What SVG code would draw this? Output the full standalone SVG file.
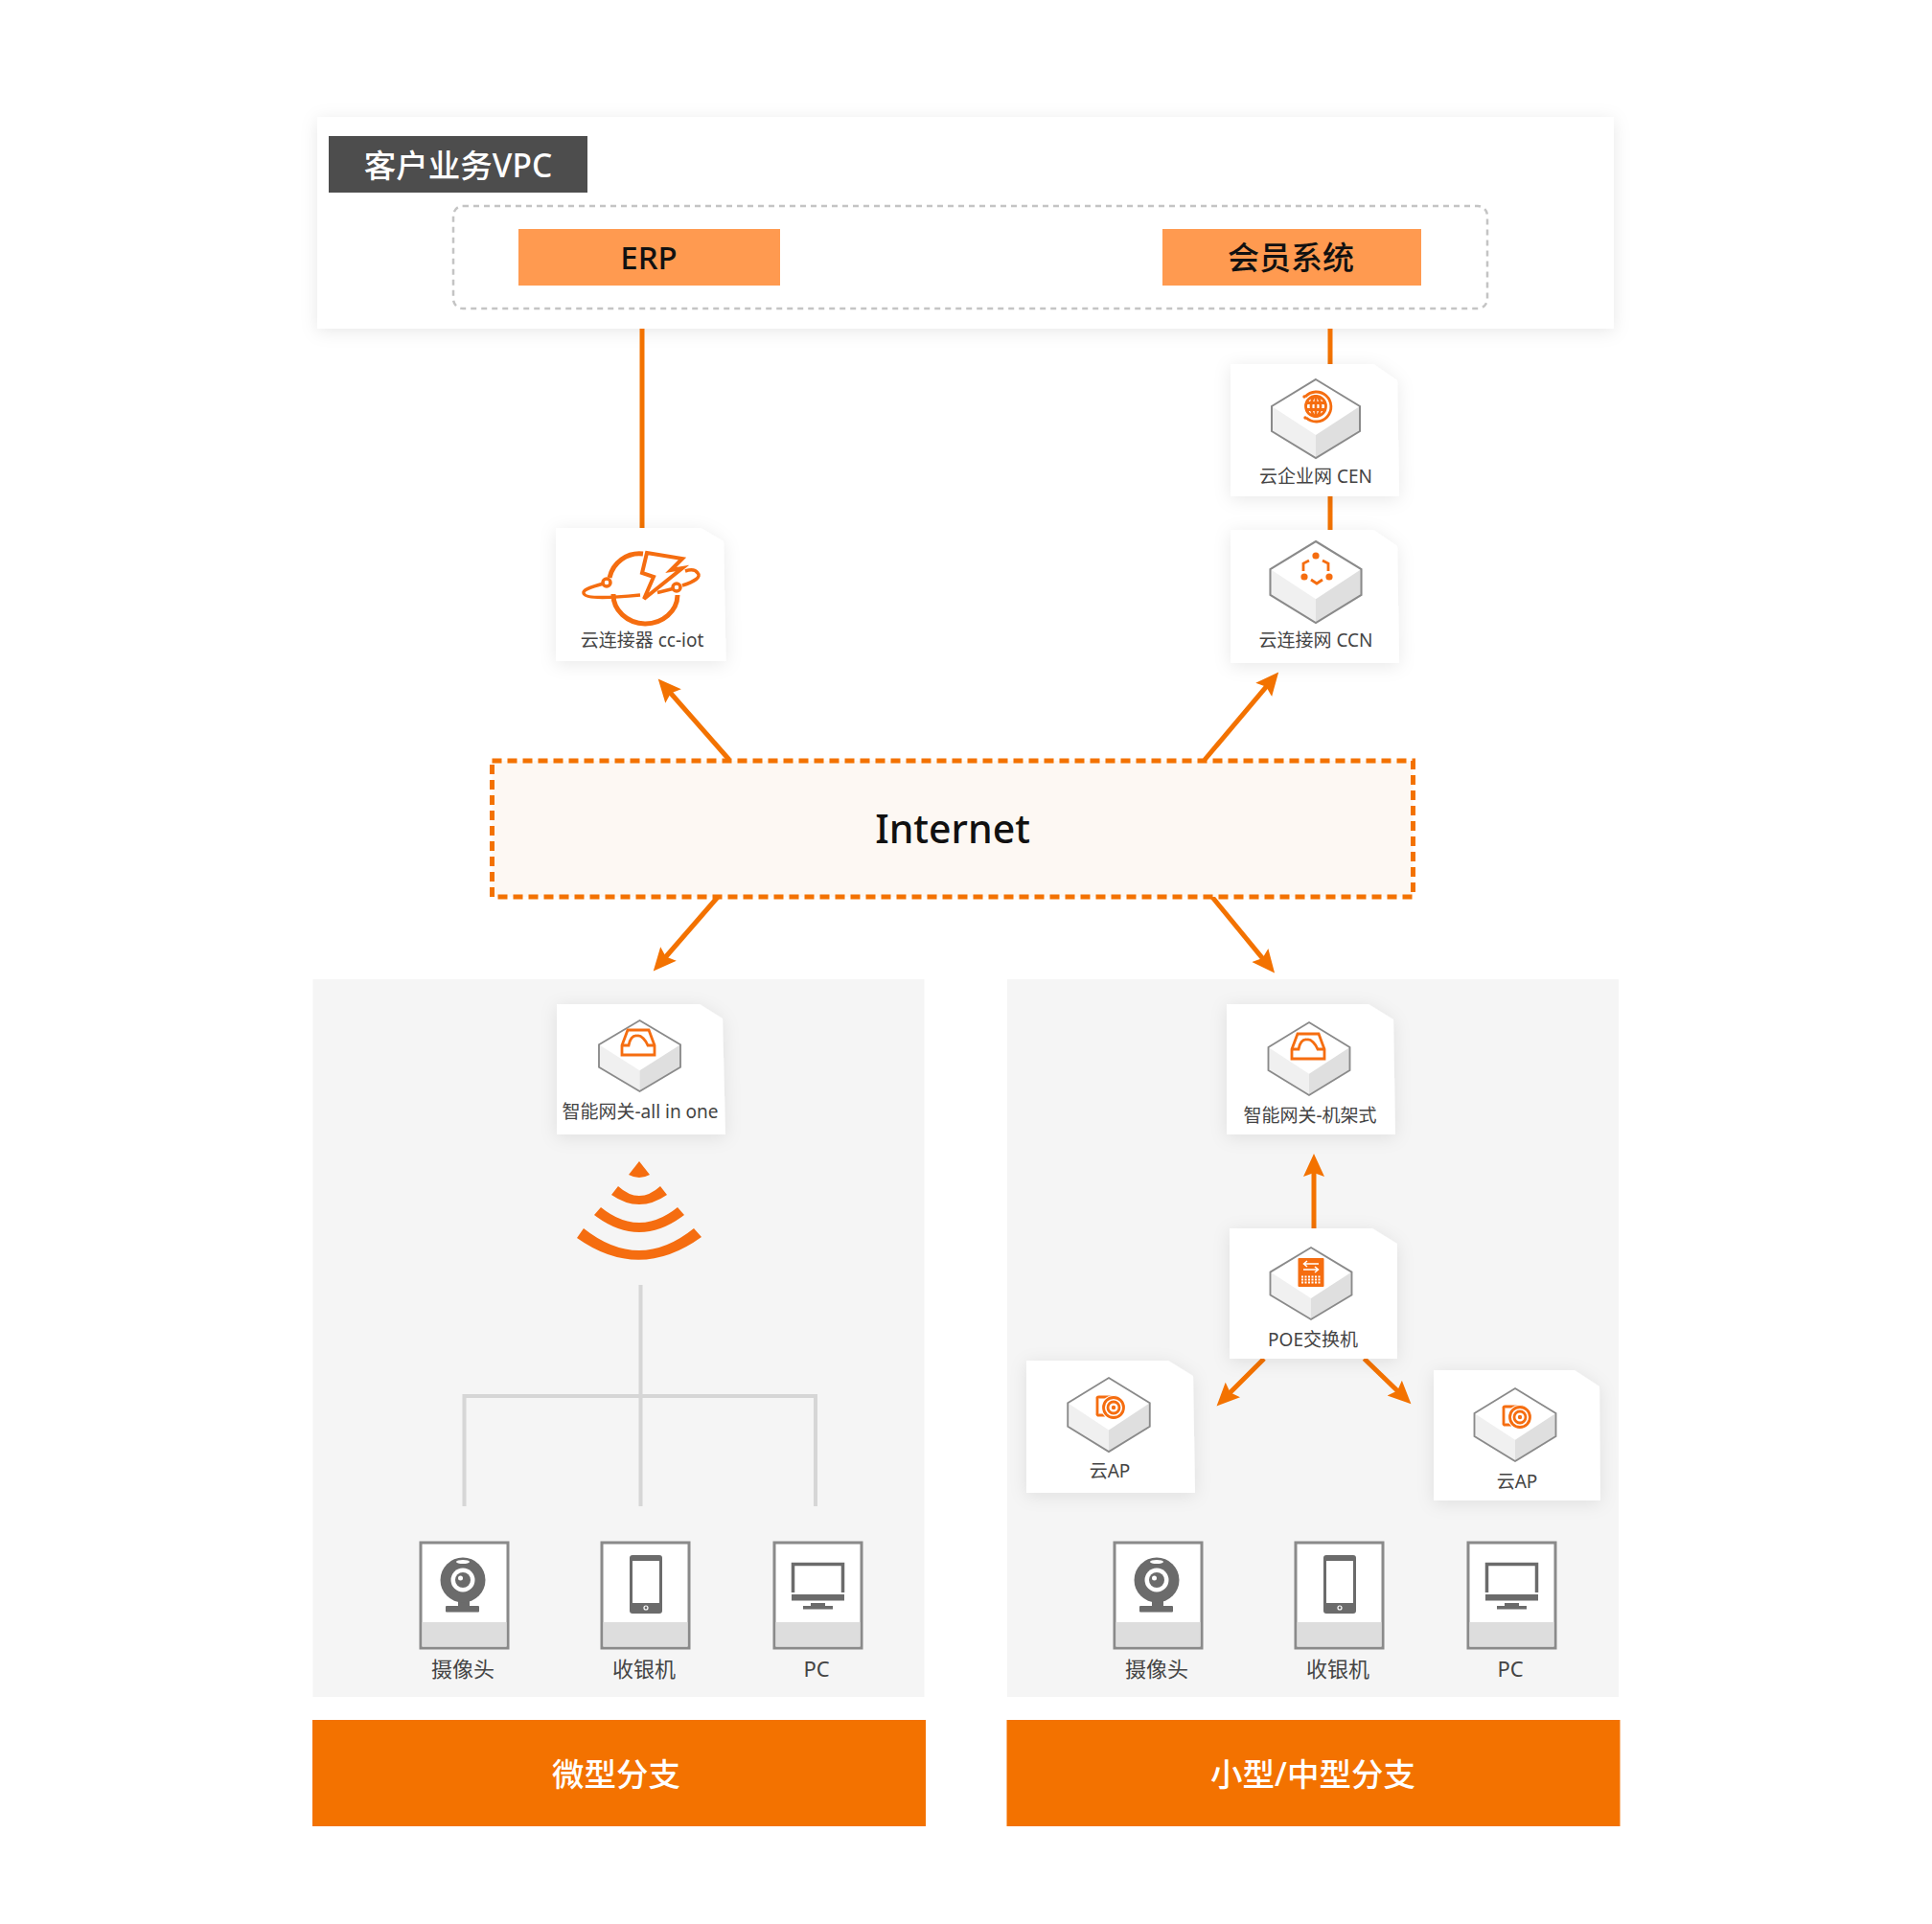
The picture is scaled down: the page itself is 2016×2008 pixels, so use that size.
<svg xmlns="http://www.w3.org/2000/svg" xmlns:xlink="http://www.w3.org/1999/xlink" width="2016" height="2008" viewBox="0 0 2016 2008">
<style>
text{font-family:"Noto Sans","Noto Sans CJK SC",sans-serif;text-anchor:middle}
.card{fill:#fff;filter:url(#sh)}
.lbl{font-size:19px;fill:#444}
.dev{font-size:22px;fill:#444}
.conn{stroke:#f37200;stroke-width:5;fill:none}
.arrow{marker-end:url(#ah)}
.tree{stroke:#d6d6d6;stroke-width:4;fill:none}
.ic{fill:none;stroke:#f56d10;stroke-width:2.8}
.foot{fill:#f37200}
.ft{font-size:33.5px;fill:#fff;font-weight:500}
.g{fill:#6b6b6b}
</style>
<defs>
<filter id="sh" x="-20%" y="-20%" width="140%" height="140%"><feDropShadow dx="0" dy="3" stdDeviation="9" flood-color="#000" flood-opacity="0.09"/></filter>
<marker id="ah" markerUnits="userSpaceOnUse" markerWidth="26" markerHeight="24" refX="16" refY="11" orient="auto"><path d="M0 0L24 11L0 22L4 11z" fill="#f37200"/></marker>
<g id="hex">
<path d="M0 0L46 28V54L0 82L-46 54V28z" fill="#fff"/>
<path d="M-46 28L0 58V82L-46 54z" fill="#f0f0f0"/>
<path d="M46 28L0 58V82L46 54z" fill="#dfdfdf"/>
<path d="M0 0L46 28V54L0 82L-46 54V28z" fill="none" stroke="#8a8a8a" stroke-width="2"/>
</g>
<g id="gwic">
<path class="ic" d="M-11 -25H11L17 -9V1H-17V-9z"/>
<path class="ic" d="M-17 -9H-10C-9 -15 -6 -20 -1 -19C3 -20 8 -14 10 -9H17"/>
</g>
<g id="apic">
<path class="ic" d="M3 -11H-15A1.5 1.5 0 0 0 -17 -9V6A1.5 1.5 0 0 0 -15 8H-9" stroke-width="3"/>
<circle cx="0" cy="0" r="13" fill="#fff"/>
<circle cx="0" cy="0" r="10.5" class="ic" stroke-width="3"/>
<circle cx="0" cy="0" r="6" class="ic" stroke-width="1.6"/>
<circle cx="0" cy="0" r="2.2" fill="#f56d10"/>
</g>
<g id="camera">
<rect x="439" y="1610" width="91" height="110" fill="#fff" stroke="#8a8a8a" stroke-width="3"/>
<rect x="440.500" y="1693" width="88" height="25.500" fill="#ddd"/>
<rect x="478" y="1668" width="12" height="10" class="g"/>
<rect x="465" y="1676" width="35" height="6.5" rx="1" class="g"/>
<circle cx="483" cy="1649" r="23.5" class="g"/>
<ellipse cx="483" cy="1630" rx="7" ry="2" fill="#fff"/>
<circle cx="483" cy="1649" r="12.5" fill="#fff"/>
<circle cx="483" cy="1649" r="8" class="g"/>
<circle cx="480.500" cy="1647" r="2.500" fill="#fff"/>
</g>
<g id="phone">
<rect x="628" y="1610" width="91" height="110" fill="#fff" stroke="#8a8a8a" stroke-width="3"/>
<rect x="629.500" y="1693" width="88" height="25.500" fill="#ddd"/>
<rect x="657" y="1623" width="34" height="61" rx="3" class="g"/>
<rect x="660" y="1629" width="28" height="44" fill="#fff"/>
<circle cx="674" cy="1678" r="2" fill="none" stroke="#fff" stroke-width="1.2"/>
</g>
<g id="monitor">
<rect x="808" y="1610" width="91" height="110" fill="#fff" stroke="#8a8a8a" stroke-width="3"/>
<rect x="809.500" y="1693" width="88" height="25.500" fill="#ddd"/>
<path d="M827.500 1662V1632.500H879.500V1662" fill="none" stroke="#6b6b6b" stroke-width="3.500"/>
<rect x="826" y="1664" width="55" height="6.500" class="g"/>
<rect x="846" y="1673" width="15" height="4" class="g"/>
<rect x="838" y="1676" width="31" height="3.500" class="g"/>
</g>
</defs>
<rect width="2016" height="2008" fill="#fff"/>

<g id="vpc">
<rect x="331" y="122" width="1353" height="221" class="card"/>
<rect x="343" y="142" width="270" height="59" fill="#4d4d4d"/>
<text x="478" y="185" font-size="33.500" font-weight="500" fill="#fff">客户业务VPC</text>
<rect x="473" y="215" width="1079" height="107" rx="10" fill="none" stroke="#c4c4c4" stroke-width="2.500" stroke-dasharray="6 5"/>
</g>
<g id="erp">
<rect x="541" y="239" width="273" height="59" fill="#ff9a50"/>
<text x="677" y="281" font-size="33" font-weight="500" fill="#111">ERP</text>
</g>
<g id="member">
<rect x="1213" y="239" width="270" height="59" fill="#ff9a50"/>
<text x="1347" y="281" font-size="33" font-weight="500" fill="#111">会员系统</text>
</g>

<g id="panel-left"><rect x="326.500" y="1022" width="638" height="749" fill="#f5f5f5"/></g>
<g id="panel-right"><rect x="1051" y="1022" width="638" height="749" fill="#f5f5f5"/></g>

<g id="connectors">
<path class="conn" d="M670 343V552"/>
<path class="conn" d="M1388 343V381"/>
<path class="conn" d="M1388 517V554"/>
<path class="conn arrow" d="M761 793L692 714.500"/>
<path class="conn arrow" d="M1257 793L1329 707.600"/>
<path class="conn arrow" d="M750 935L687 1007.500"/>
<path class="conn arrow" d="M1264 935L1325 1009.400"/>
<path class="conn arrow" d="M1371 1283V1212"/>
<path class="conn arrow" d="M1319 1418L1275.200 1461.800"/>
<path class="conn arrow" d="M1423.500 1418L1466.700 1459.800"/>
<path class="tree" d="M668.500 1341V1572M484.500 1572V1457H851V1572"/>
</g>

<g id="cc-iot">
<path class="card" d="M580 551H731L755 565L757.500 690H580z"/>
<path d="M671 578A32 32 0 0 0 636 603M640 620A33 30 0 0 0 707 621" fill="none" stroke="#f56d10" stroke-width="5"/>
<path d="M675 577L712 583L700 595L712 593L672 625L682 602L670 598z" fill="none" stroke="#f56d10" stroke-width="4" stroke-linejoin="miter"/>
<path d="M630 609C615 613 608 616 609 619C610 624 627 625 668 621M686 618.500L702 614.500M712 611C725 607 732 602 728 598C726 595 721 594 715 596" fill="none" stroke="#f56d10" stroke-width="3.500"/>
<circle cx="633" cy="608" r="4" fill="#fff" stroke="#f56d10" stroke-width="3.500"/>
<circle cx="706" cy="613" r="4" fill="#fff" stroke="#f56d10" stroke-width="3.500"/>
<text x="670" y="675" class="lbl">云连接器 cc-iot</text>
</g>

<g id="cen">
<path class="card" d="M1284 380H1433L1458 397L1460 518H1284z"/>
<use href="#hex" transform="translate(1373 396)"/>
<circle cx="1373" cy="424" r="10.500" class="ic" stroke-width="1.800"/>
<ellipse cx="1373" cy="424" rx="5" ry="10.500" class="ic" stroke-width="1.500"/>
<path class="ic" stroke-width="1.500" d="M1373 413.500V434.500M1363 420.500H1383M1363 427.500H1383"/>
<path class="ic" stroke-width="2.200" d="M1362 414A15.500 15.500 0 1 1 1363 436"/>
<circle cx="1361" cy="414" r="1.700" fill="#f56d10"/><circle cx="1362" cy="436" r="1.700" fill="#f56d10"/>
<text x="1373" y="504" class="lbl">云企业网 CEN</text>
</g>

<g id="ccn">
<path class="card" d="M1284 553H1433L1458 570L1460 692H1284z"/>
<use href="#hex" transform="translate(1373 565) scale(1.033 1.037)"/>
<circle cx="1373" cy="580" r="3.600" fill="#f56d10"/><circle cx="1361" cy="602" r="3.600" fill="#f56d10"/><circle cx="1387" cy="602" r="3.600" fill="#f56d10"/>
<path class="ic" stroke-width="2.200" d="M1366 585L1360 588V596M1380 585L1386 588V596M1368 605L1374 609L1380 605"/>
<text x="1373" y="675" class="lbl">云连接网 CCN</text>
</g>

<g id="internet">
<rect x="513.500" y="794" width="961" height="142" fill="#fdf8f3" stroke="#f37200" stroke-width="5" stroke-dasharray="10 6"/>
<text x="994" y="880" font-size="41" font-weight="500" fill="#111">Internet</text>
</g>

<g id="gw-aio">
<path class="card" d="M581 1048H730L754 1063L757 1184H581z"/>
<use href="#hex" transform="translate(667.500 1065) scale(.924 .902)"/>
<use href="#gwic" transform="translate(666 1100)"/>
<text x="668" y="1167" class="lbl">智能网关-all in one</text>
</g>

<g id="wifi" fill="#f56d10">
<path d="M667 1212L678 1226Q667 1232 656 1226z"/>
<path d="M645 1238Q667 1258 689 1238L696 1247Q667 1267 638 1247z"/>
<path d="M627 1260Q667 1292 707 1260L714 1268Q667 1304 620 1268z"/>
<path d="M609 1282Q667 1328 724 1282L732 1291Q667 1338 602 1292z"/>
</g>

<g id="dev-l-cam"><use href="#camera"/><text x="483" y="1750" class="dev">摄像头</text></g>
<g id="dev-l-pos"><use href="#phone"/><text x="672" y="1750" class="dev">收银机</text></g>
<g id="dev-l-pc"><use href="#monitor"/><text x="852" y="1750" class="dev">PC</text></g>
<g id="dev-r-cam"><use href="#camera" x="724"/><text x="1207" y="1750" class="dev">摄像头</text></g>
<g id="dev-r-pos"><use href="#phone" x="724"/><text x="1396" y="1750" class="dev">收银机</text></g>
<g id="dev-r-pc"><use href="#monitor" x="724"/><text x="1576" y="1750" class="dev">PC</text></g>

<g id="gw-rack">
<path class="card" d="M1280 1048H1428L1454 1064L1456 1184H1280z"/>
<use href="#hex" transform="translate(1366 1067) scale(.924 .927)"/>
<use href="#gwic" transform="translate(1365 1104)"/>
<text x="1367" y="1171" class="lbl">智能网关-机架式</text>
</g>

<g id="poe">
<path class="card" d="M1283 1282H1432L1458 1298V1418H1283z"/>
<use href="#hex" transform="translate(1368 1302) scale(.924 .915)"/>
<rect x="1354.500" y="1313" width="27" height="30" rx="1" fill="#f56d10"/>
<path d="M1376 1319H1361M1364 1316L1360.500 1319L1364 1322M1360 1325H1375M1372 1322L1375.500 1325L1372 1328" fill="none" stroke="#fff" stroke-width="1.500"/>
<path d="M1358 1332.500H1378M1358 1335.500H1378M1358 1338.500H1378" stroke="#fff" stroke-width="1.800" stroke-dasharray="2 1.500"/>
<text x="1370" y="1405" class="lbl">POE交换机</text>
</g>

<g id="ap-left">
<path class="card" d="M1071 1420H1219L1245 1436L1247 1558H1071z"/>
<use href="#hex" transform="translate(1157 1438) scale(.93 .94)"/>
<use href="#apic" transform="translate(1162 1469)"/>
<text x="1158" y="1542" class="lbl">云AP</text>
</g>

<g id="ap-right">
<path class="card" d="M1496 1430H1643L1669 1447L1670 1566H1496z"/>
<use href="#hex" transform="translate(1581 1449) scale(.924 .927)"/>
<use href="#apic" transform="translate(1586 1479)"/>
<text x="1583" y="1553" class="lbl">云AP</text>
</g>

<g id="foot-left"><rect x="326" y="1795" width="640" height="111" class="foot"/><text x="643" y="1864" class="ft">微型分支</text></g>
<g id="foot-right"><rect x="1050.500" y="1795" width="640" height="111" class="foot"/><text x="1370" y="1864" class="ft">小型/中型分支</text></g>
</svg>
